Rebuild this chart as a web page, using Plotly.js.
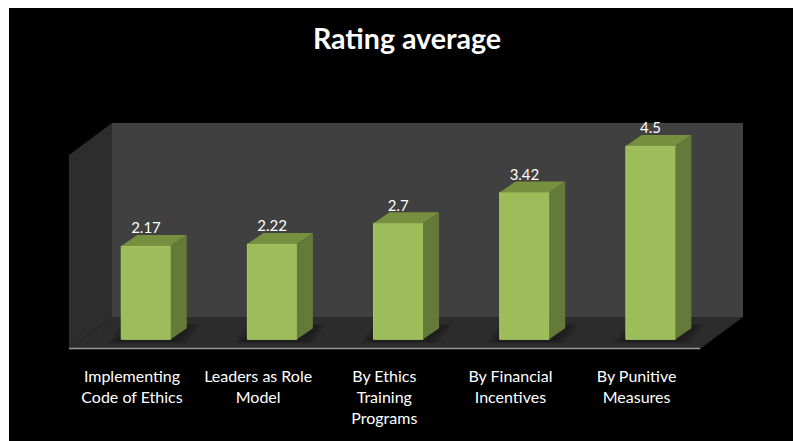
<!DOCTYPE html>
<html>
<head>
<meta charset="utf-8">
<script src="https://cdn.plot.ly/plotly-3.0.1.min.js"></script>
<style>
html,body{margin:0;padding:0;background:#fff;overflow:hidden}
#chart{position:absolute;left:9px;top:8px;width:784px;height:433px}
</style>
</head>
<body>
<div id="chart"></div>
<script>
const chartTitle = 'Rating average';
const categories = ['Implementing<br>Code of Ethics','Leaders as Role<br>Model','By Ethics<br>Training<br>Programs','By Financial<br>Incentives','By Punitive<br>Measures'];
const ratings = [2.17, 2.22, 2.7, 3.42, 4.5];
const ratingLabels = ['2.17','2.22','2.7','3.42','4.5'];

// geometry of the picture, in page pixels
const W = 784, H = 433, ox = 9, oy = 8;
const left = 69, right = 743, top_ = 123, bottom = 349;
const depthX = 43, depthY = 32;
const firstCentre = 146, step = 126.15, unit = 42.96, zeroY = 339.3;
const barW = 49.5 / step, dx = 16 / step, dy = 11 / unit;
const labelShift = 14 / step, labelLift = 16.5 / unit;

const idx = categories.map((_, i) => i);
const xRange = [(left - firstCentre) / step, (right - firstCentre) / step];
const yRange = [(zeroY - bottom) / unit, (zeroY - top_) / unit];

const fx = p => (p - left) / (right - left);
const fy = p => (bottom - p) / (bottom - top_);
const paperPath = pts => 'M' + pts.map(p => fx(p[0]).toFixed(5) + ' ' + fy(p[1]).toFixed(5)).join(' L') + ' Z';
const wall = (pts, color) => ({type:'path', xref:'paper', yref:'paper', path:paperPath(pts), fillcolor:color, line:{width:0}, layer:'below'});

const shapes = [
  wall([[left+depthX,top_],[right,top_],[right,bottom-depthY],[left+depthX,bottom-depthY]], '#404040'),
  wall([[left,top_+depthY],[left+depthX,top_],[left+depthX,bottom-depthY],[left,bottom]], '#2d2d2d'),
  wall([[left,bottom],[left+depthX,bottom-depthY],[right,bottom-depthY],[right-depthX,bottom]], '#2c2c2c')
];
// soft floor shadow under each bar
idx.forEach(i => {
  [[13,4,0.35],[9,3,0.45],[5,2,0.6]].forEach(s => {
    const a = i - barW/2 - s[0]/step, b = i + barW/2 + dx + s[0]/step;
    const y0 = -s[1]/unit, y1 = (11 + s[1]) / unit;
    shapes.push({type:'path', xref:'x', yref:'y', layer:'below', line:{width:0}, fillcolor:'#1c1c1c', opacity:s[2],
      path:`M${a+ (14/step)} ${y1} L${b} ${y1} L${b - 14/step} ${y0} L${a} ${y0} Z`});
  });
});
shapes.push({type:'line', xref:'paper', yref:'paper', x0:0, x1:fx(right-depthX), y0:fy(bottom-0.5), y1:fy(bottom-0.5), line:{color:'#9a9a9a', width:1.5}});

const gap = (arr, f) => arr.flatMap((v,i) => [...f(v,i), null]);
const topX = gap(ratings, (v,i) => [i-barW/2, i-barW/2+dx, i+barW/2+dx, i+barW/2]);
const topY = gap(ratings, v => [v, v+dy, v+dy, v]);
const sideX = gap(ratings, (v,i) => [i+barW/2, i+barW/2+dx, i+barW/2+dx, i+barW/2]);
const sideY = gap(ratings, v => [v, v+dy, dy, 0]);

const data = [
  {type:'bar', x:idx, y:ratings, width:barW, marker:{color:'#9dbc5a', line:{color:'#a9c96a', width:1}}, hoverinfo:'skip', showlegend:false},
  {type:'scatter', mode:'lines', x:topX, y:topY, fill:'toself', fillcolor:'#77903f', line:{width:0}, hoverinfo:'skip', showlegend:false},
  {type:'scatter', mode:'lines', x:sideX, y:sideY, fill:'toself', fillcolor:'#647a38', line:{width:0}, hoverinfo:'skip', showlegend:false},
  {type:'scatter', mode:'text', x:idx, y:ratings.map(v => v + labelLift), text:ratingLabels, textposition:'middle center', cliponaxis:false,
   textfont:{family:'Lato, sans-serif', size:15, color:'#ffffff'}, hoverinfo:'skip', showlegend:false}
];

const layout = {
  width:W, height:H, paper_bgcolor:'#000', plot_bgcolor:'rgba(0,0,0,0)', showlegend:false,
  margin:{l:left-ox, r:W-(right-ox), t:top_-oy, b:H-(bottom-oy), pad:0},
  title:{text:chartTitle, x:(407-ox)/W, xanchor:'center', y:1-(39-oy)/H, yanchor:'middle',
         font:{family:'Lato, sans-serif', size:28.6, color:'#fff', weight:700}},
  xaxis:{type:'linear', range:xRange, tickmode:'array', tickvals:idx.map(i => i - labelShift), ticktext:categories,
         showgrid:false, zeroline:false, showline:false, ticks:'outside', ticklen:13, tickcolor:'rgba(0,0,0,0)', tickangle:0,
         tickfont:{family:'Lato, sans-serif', size:16, color:'#fff'}},
  yaxis:{range:yRange, showgrid:false, zeroline:false, showline:false, showticklabels:false, ticks:''},
  shapes:shapes
};
Plotly.newPlot('chart', data, layout, {displayModeBar:false, staticPlot:true});
</script>
</body>
</html>
